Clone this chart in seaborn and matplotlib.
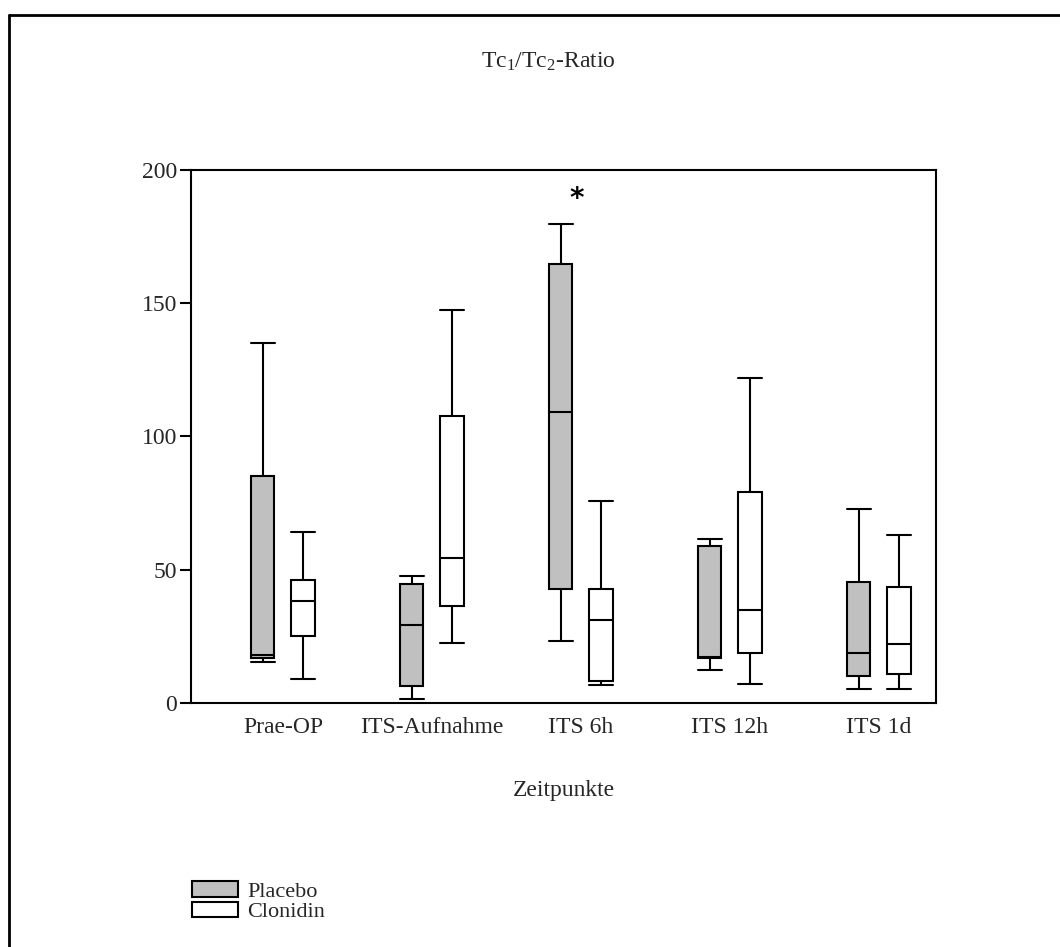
import matplotlib
matplotlib.use("Agg")
import matplotlib.pyplot as plt
import matplotlib.patches as mpatches
import matplotlib.lines as mlines
import seaborn as sns
import pandas as pd

# ---- data (five-number summaries) ----
zeitpunkte = ["Prae-OP", "ITS-Aufnahme", "ITS 6h", "ITS 12h", "ITS 1d"]
gruppen = ["Placebo", "Clonidin"]

placebo_min = [15.5, 1.4, 23.3, 12.2, 5.2]
placebo_q1 = [17.0, 6.4, 42.8, 16.9, 10.3]
placebo_med = [18.0, 29.2, 109.3, 17.3, 18.8]
placebo_q3 = [85.0, 44.7, 164.9, 59.0, 45.3]
placebo_max = [135.0, 47.5, 179.7, 61.5, 72.7]

clonidin_min = [8.9, 22.6, 6.6, 7.0, 5.2]
clonidin_q1 = [25.2, 36.5, 8.4, 18.7, 11.0]
clonidin_med = [38.3, 54.5, 31.0, 34.8, 22.1]
clonidin_q3 = [46.0, 107.7, 42.7, 79.1, 43.5]
clonidin_max = [64.2, 147.5, 75.9, 121.9, 63.0]

y_ticks = [0, 50, 100, 150, 200]
star_category = "ITS 6h"
star_value = 189

rows = []
for g, stats in (("Placebo", (placebo_min, placebo_q1, placebo_med, placebo_q3, placebo_max)),
                 ("Clonidin", (clonidin_min, clonidin_q1, clonidin_med, clonidin_q3, clonidin_max))):
    for i, z in enumerate(zeitpunkte):
        for s in stats:
            rows.append({"Zeitpunkt": z, "Gruppe": g, "Wert": s[i]})
df = pd.DataFrame(rows)

sns.set_theme(style="white")
plt.rcParams["font.family"] = ["Liberation Serif", "DejaVu Serif"]
plt.rcParams["mathtext.fontset"] = "custom"
plt.rcParams["mathtext.rm"] = "Liberation Serif"
plt.rcParams["mathtext.it"] = "Liberation Serif:italic"

W, H = 1060, 947
fig = plt.figure(figsize=(W / 100, H / 100), dpi=100)
fig.patch.set_facecolor("white")
ax = fig.add_axes([191 / W, 1 - 703 / H, (936 - 191) / W, (703 - 170) / H])

palette = {"Placebo": "#c0c0c0", "Clonidin": "#ffffff"}
common = dict(data=df, x="Zeitpunkt", y="Wert", hue="Gruppe", order=zeitpunkte,
              hue_order=gruppen, palette=palette, width=0.54, gap=0.42,
              whis=(0, 100), linecolor="black", linewidth=1.5, dodge=True,
              saturation=1, legend=False, ax=ax)
try:
    sns.boxplot(capwidths=0.157, **common)
except TypeError:
    ax.cla()
    sns.boxplot(**common)

ax.set_ylim(0, 200)
ax.set_xlim(-0.617, 4.383)
ax.set_yticks(y_ticks)
ax.tick_params(axis="y", which="both", left=True, length=8, width=1.5,
               labelsize=17, pad=2, color="black")
ax.tick_params(axis="x", length=0, labelsize=17, pad=10)
for s in ax.spines.values():
    s.set_visible(True)
    s.set_color("black")
    s.set_linewidth(1.5)
ax.set_ylabel("")
ax.set_xlabel("Zeitpunkte", fontsize=17, labelpad=30)

# significance marker
xi = zeitpunkte.index(star_category) - 0.03
ax.text(xi, star_value, "*", ha="center", va="center", fontsize=20,
        fontweight="bold", fontfamily="DejaVu Sans", color="black")

# title
fig.text(548 / W, 1 - 62 / H, r"Tc$_1$/Tc$_2$-Ratio", ha="center", va="center",
         fontsize=17)

# legend
handles = [mpatches.Patch(facecolor=palette[g], edgecolor="black", linewidth=1.5, label=g)
           for g in gruppen]
fig.legend(handles=handles, loc="upper left", bbox_to_anchor=(192 / W, 1 - 881 / H),
           frameon=False, fontsize=16, handlelength=2.07, handleheight=0.7,
           handletextpad=0.4, labelspacing=0.0, borderpad=0, borderaxespad=0)

# outer frame (top and left edges visible)
fig.add_artist(mlines.Line2D([9 / W, 1], [1 - 15 / H, 1 - 15 / H], color="black",
                             linewidth=2, transform=fig.transFigure))
fig.add_artist(mlines.Line2D([9 / W, 9 / W], [0, 1 - 15 / H], color="black",
                             linewidth=2, transform=fig.transFigure))

fig.savefig("out.png", dpi=100, facecolor="white")
